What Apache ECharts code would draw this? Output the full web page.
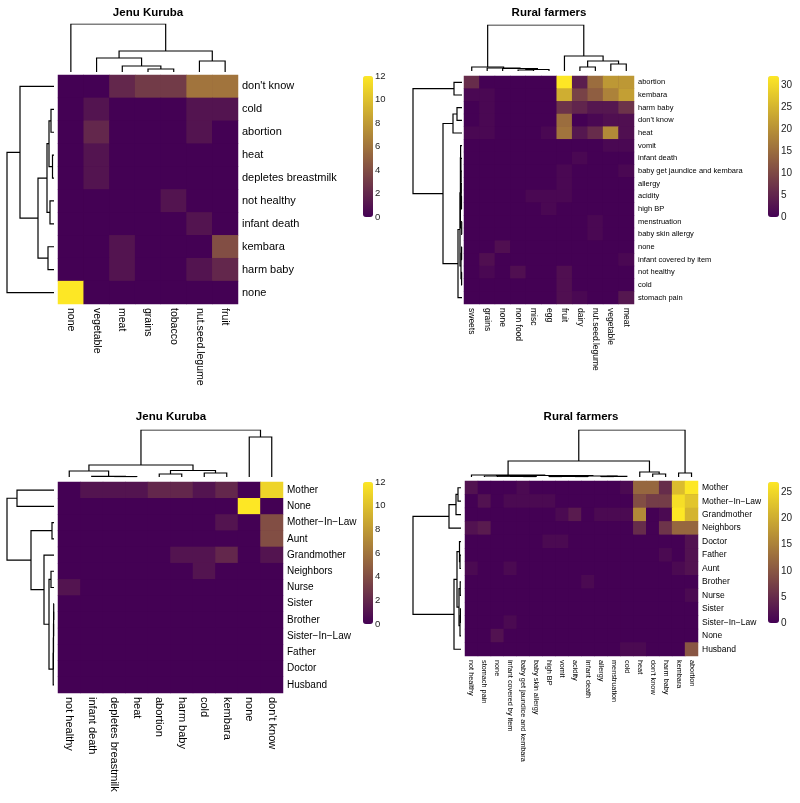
<!DOCTYPE html>
<html><head><meta charset="utf-8">
<script src="https://cdn.jsdelivr.net/npm/echarts@6/dist/echarts.min.js"></script>
<style>html,body{margin:0;padding:0;background:#fff}#c{width:800px;height:803px}</style>
</head><body><div id="c"></div>
<script>
// ---------- Panel 1: Jenu Kuruba (foods) ----------
const p1Title = 'Jenu Kuruba';
const p1Rows = ["don't know","cold","abortion","heat","depletes breastmilk","not healthy","infant death","kembara","harm baby","none"];
const p1Cols = ["none","vegetable","meat","grains","tobacco","nut.seed.legume","fruit"];
const p1Values = [
  [0,0,2,3,3,6,6],
  [0,1,0,0,0,1,1],
  [0,2,0,0,0,1,0],
  [0,1,0,0,0,0,0],
  [0,1,0,0,0,0,0],
  [0,0,0,0,1,0,0],
  [0,0,0,0,0,1,0],
  [0,0,1,0,0,0,4],
  [0,0,1,0,0,1,2],
  [12,0,0,0,0,0,0]
];
const p1ColTree = [[-4,-5,3],[-3,1,6],[-2,2,14],[-6,-7,11],[3,4,21],[-1,5,48]];
const p1RowTree = [[-2,-3,3],[-4,-5,1.5],[1,2,5],[-6,-7,4],[3,4,7],[-8,-9,6],[5,6,16],[-1,7,34],[8,-10,47]];
const p1Ticks = [0,2,4,6,8,10,12];

// ---------- Panel 2: Rural farmers (foods) ----------
const p2Title = 'Rural farmers';
const p2Rows = ["abortion","kembara","harm baby","don't know","heat","vomit","infant death","baby get jaundice and kembara","allergy","acidity","high BP","menstruation","baby skin allergy","none","infant covered by item","not healthy","cold","stomach pain"];
const p2Cols = ["sweets","grains","none","non food","misc","egg","fruit","dairy","nut.seed.legume","vegetable","meat"];
const p2Values = [
  [6,0,0,0,0,0,32,4,15,21,21],
  [1,1,0,0,0,0,24,9,13,18,22],
  [0,1,0,0,0,0,7,5,3,3,7],
  [0,1,0,0,0,0,15,0,1,2,2],
  [1,1,0,0,0,1,16,3,6,19,2],
  [0,0,0,0,0,0,0,0,0,1,1],
  [0,0,0,0,0,0,0,1,0,0,0],
  [0,0,0,0,0,0,1,0,0,0,1],
  [0,0,0,0,0,0,1,0,0,0,0],
  [0,0,0,0,1,1,1,0,0,0,0],
  [0,0,0,0,0,1,0,0,0,0,0],
  [0,0,0,0,0,0,0,0,1,0,0],
  [0,0,0,0,0,0,0,0,1,0,0],
  [0,0,2,0,0,0,0,0,0,0,0],
  [0,2,0,0,0,0,0,0,0,0,1],
  [0,1,0,2,0,0,2,0,0,0,0],
  [0,0,0,0,0,0,2,0,0,0,0],
  [0,0,0,0,0,0,2,1,0,0,3]
];
const p2ColTree = [[-4,-5,1],[1,-6,1.5],[-3,2,2.5],[-2,3,3],[-1,4,4],[-8,-9,4],[-10,-11,7],[6,7,10],[-7,8,15],[5,9,46]];
const p2RowTree = [[-1,-2,8],[-3,-4,5],[2,-5,9],[-12,-13,0.3],[-14,-15,0.4],[-16,-17,0.4],[5,6,1.0],[-10,-11,0.5],[-9,8,0.8],[-8,9,1.0],[-7,10,1.2],[-6,11,1.4],[12,4,1.6],[13,7,2.0],[14,-18,4],[3,15,19],[1,16,49]];
const p2Ticks = [0,5,10,15,20,25,30];

// ---------- Panel 3: Jenu Kuruba (sources) ----------
const p3Title = 'Jenu Kuruba';
const p3Rows = ["Mother","None","Mother\u2212In\u2212Law","Aunt","Grandmother","Neighbors","Nurse","Sister","Brother","Sister\u2212In\u2212Law","Father","Doctor","Husband"];
const p3Cols = ["not healthy","infant death","depletes breastmilk","heat","abortion","harm baby","cold","kembara","none","don't know"];
const p3Values = [
  [0,1,1,1,2,2,1,2,0,11],
  [0,0,0,0,0,0,0,0,12,0],
  [0,0,0,0,0,0,0,1,0,4],
  [0,0,0,0,0,0,0,0,0,4],
  [0,0,0,0,0,1,1,2,0,1],
  [0,0,0,0,0,0,1,0,0,0],
  [1,0,0,0,0,0,0,0,0,0],
  [0,0,0,0,0,0,0,0,0,0],
  [0,0,0,0,0,0,0,0,0,0],
  [0,0,0,0,0,0,0,0,0,0],
  [0,0,0,0,0,0,0,0,0,0],
  [0,0,0,0,0,0,0,0,0,0],
  [0,0,0,0,0,0,0,0,0,0]
];
const p3ColTree = [[-3,-4,0.3],[-2,1,0.6],[-1,2,6],[-5,-6,3],[-7,-8,4],[4,5,6.5],[3,6,12],[-9,-10,40],[7,8,47]];
const p3RowTree = [[-1,-2,37],[-3,-4,2],[-8,-9,0.3],[3,-10,0.4],[4,-11,0.5],[5,-12,0.6],[6,-13,0.8],[-6,-7,3],[8,7,5],[-5,9,10],[2,10,23],[1,11,47]];
const p3Ticks = [0,2,4,6,8,10,12];

// ---------- Panel 4: Rural farmers (sources) ----------
const p4Title = 'Rural farmers';
const p4Rows = ["Mother","Mother\u2212In\u2212Law","Grandmother","Neighbors","Doctor","Father","Aunt","Brother","Nurse","Sister","Sister\u2212In\u2212Law","None","Husband"];
const p4Cols = ["not healthy","stomach pain","none","infant covered by item","baby get jaundice and kembara","baby skin allergy","high BP","vomit","acidity","infant death","allergy","menstruation","cold","heat","don't know","harm baby","kembara","abortion"];
const p4Values = [
  [2,0,0,0,1,0,0,0,0,0,0,0,1,12,12,5,22,27],
  [0,2,0,1,1,1,1,0,0,0,0,0,0,9,7,7,26,23],
  [0,0,0,0,0,0,0,1,3,0,1,1,1,16,0,1,27,21],
  [2,3,0,0,0,0,0,0,0,0,0,0,0,5,0,6,12,12],
  [0,0,0,0,0,0,1,1,0,0,0,0,0,0,0,0,0,2],
  [0,0,0,0,0,0,0,0,0,0,0,0,0,0,0,1,0,2],
  [1,0,0,1,0,0,0,0,0,0,0,0,0,0,0,0,1,2],
  [0,0,0,0,0,0,0,0,0,1,0,0,0,0,0,0,0,0],
  [0,0,0,0,0,0,0,0,0,0,0,0,0,0,0,0,0,1],
  [0,0,0,0,0,0,0,0,0,0,0,0,0,0,0,0,0,0],
  [0,0,0,1,0,0,0,0,0,0,0,0,0,0,0,0,0,0],
  [0,0,2,0,0,0,0,0,0,0,0,0,0,0,0,0,0,0],
  [0,0,0,0,0,0,0,0,0,0,0,0,1,1,0,0,0,10]
];
const p4ColTree = [[-5,-6,0.3],[-4,1,0.5],[-3,2,0.8],[-2,3,1.0],[-7,-8,0.4],[-9,-10,0.3],[5,6,0.7],[-11,-12,0.3],[8,-13,0.6],[7,9,1.0],[4,10,1.5],[-1,11,2.0],[-15,-16,3],[-14,13,5],[12,14,16],[-17,-18,4],[15,16,47]];
const p4RowTree = [[-1,-2,3],[1,-3,5],[2,-4,12],[-6,-7,1],[-5,4,1.5],[-8,-9,0.8],[-10,-11,0.6],[7,-12,1.0],[6,8,2.0],[5,9,4],[10,-13,7],[3,11,48]];
const p4Ticks = [0,5,10,15,20,25];

// ---------- layout (positions / styles only) ----------
const panels = [
  {title:p1Title, rows:p1Rows, cols:p1Cols, values:p1Values, colTree:p1ColTree, rowTree:p1RowTree, ticks:p1Ticks,
   hm:{l:58,t:75,w:180,h:229}, cd:{t:24,h:48}, rd:{l:7,w:47}, cb:{l:363,t:76,w:10,h:141}, tt:{x:148,y:13},
   rowFs:11, colFs:10.5, cbFs:9.5},
  {title:p2Title, rows:p2Rows, cols:p2Cols, values:p2Values, colTree:p2ColTree, rowTree:p2RowTree, ticks:p2Ticks,
   hm:{l:464,t:76,w:170,h:228}, cd:{t:25,h:46}, rd:{l:413,w:49}, cb:{l:768,t:76,w:11,h:141}, tt:{x:549,y:13},
   rowFs:7.5, colFs:8.5, cbFs:10},
  {title:p3Title, rows:p3Rows, cols:p3Cols, values:p3Values, colTree:p3ColTree, rowTree:p3RowTree, ticks:p3Ticks,
   hm:{l:58,t:482,w:225,h:211}, cd:{t:430,h:47}, rd:{l:7,w:47}, cb:{l:363,t:482,w:10,h:142}, tt:{x:171,y:417},
   rowFs:10, colFs:11, cbFs:9.5},
  {title:p4Title, rows:p4Rows, cols:p4Cols, values:p4Values, colTree:p4ColTree, rowTree:p4RowTree, ticks:p4Ticks,
   hm:{l:465,t:481,w:233,h:175}, cd:{t:430,h:47}, rd:{l:413,w:48}, cb:{l:768,t:482,w:11,h:141}, tt:{x:581,y:417},
   rowFs:8.5, colFs:7.3, cbFs:10}
];

const FONT = '"Liberation Sans", Arial, Helvetica, sans-serif';
const COLORS = ['#440154', '#FDE725'];

function treeSegs(tree) {
  const pos = [], hgt = [], segs = [];
  const P = i => i < 0 ? (-i - 1) : pos[i - 1];
  const H = i => i < 0 ? 0 : hgt[i - 1];
  tree.forEach(([a, b, h]) => {
    const pa = P(a), pb = P(b);
    segs.push([[pa, H(a)], [pa, h], [pb, h], [pb, H(b)]]);
    pos.push((pa + pb) / 2); hgt.push(h);
  });
  return {segs, rootH: hgt[hgt.length - 1]};
}

const grid = [], xAxis = [], yAxis = [], series = [], visualMap = [], graphic = [];
panels.forEach((p, k) => {
  const g0 = grid.length;
  // heatmap grid (dark background hides anti-aliasing seams between cells)
  grid.push({left:p.hm.l, top:p.hm.t, width:p.hm.w, height:p.hm.h, show:true, backgroundColor:COLORS[0], borderWidth:0});
  xAxis.push({type:'category', gridIndex:g0, data:p.cols, position:'bottom',
    axisLine:{show:false}, axisTick:{show:false}, splitLine:{show:false},
    axisLabel:{rotate:-90, interval:0, fontSize:p.colFs, color:'#000', margin:4, fontFamily:FONT}});
  yAxis.push({type:'category', gridIndex:g0, data:p.rows, inverse:true, position:'right',
    axisLine:{show:false}, axisTick:{show:false}, splitLine:{show:false},
    axisLabel:{interval:0, fontSize:p.rowFs, color:'#000', margin:4, fontFamily:FONT}});
  const data = [];
  let vmax = 0;
  p.values.forEach((row, r) => row.forEach((v, c) => { data.push([c, r, v]); vmax = Math.max(vmax, v); }));
  const sIdx = series.length;
  series.push({type:'heatmap', xAxisIndex:g0, yAxisIndex:g0, data, silent:true, emphasis:{disabled:true},
    itemStyle:{borderWidth:0}});
  visualMap.push({type:'continuous', seriesIndex:sIdx, min:0, max:vmax, left:p.cb.l, top:p.cb.t,
    itemWidth:p.cb.w, itemHeight:p.cb.h, padding:0, calculable:false, hoverLink:false,
    inRange:{color:COLORS}, orient:'vertical'});
  // column dendrogram
  const ct = treeSegs(p.colTree);
  const g1 = grid.length;
  grid.push({left:p.hm.l, top:p.cd.t, width:p.hm.w, height:p.cd.h});
  xAxis.push({type:'value', gridIndex:g1, min:-0.5, max:p.cols.length - 0.5, show:false});
  yAxis.push({type:'value', gridIndex:g1, min:0, max:ct.rootH, show:false});
  series.push({type:'lines', coordinateSystem:'cartesian2d', xAxisIndex:g1, yAxisIndex:g1, polyline:true, silent:true,
    lineStyle:{color:'#000', width:1.2, opacity:1},
    data: ct.segs.map(s => ({coords:s}))});
  // row dendrogram
  const rt = treeSegs(p.rowTree);
  const g2 = grid.length;
  grid.push({left:p.rd.l, top:p.hm.t, width:p.rd.w, height:p.hm.h});
  xAxis.push({type:'value', gridIndex:g2, min:0, max:rt.rootH, inverse:true, show:false});
  yAxis.push({type:'value', gridIndex:g2, min:-0.5, max:p.rows.length - 0.5, inverse:true, show:false});
  series.push({type:'lines', coordinateSystem:'cartesian2d', xAxisIndex:g2, yAxisIndex:g2, polyline:true, silent:true,
    lineStyle:{color:'#000', width:1.2, opacity:1},
    data: rt.segs.map(s => ({coords:s.map(([a, b]) => [b, a])}))});
  // colour bar tick labels
  const g3 = grid.length;
  const step = p.ticks[1] - p.ticks[0];
  grid.push({left:p.cb.l, top:p.cb.t, width:p.cb.w, height:p.cb.h});
  xAxis.push({type:'value', gridIndex:g3, min:0, max:1, show:false});
  yAxis.push({type:'value', gridIndex:g3, min:0, max:vmax, interval:step, position:'right',
    axisLine:{show:false}, axisTick:{show:false}, splitLine:{show:false},
    axisLabel:{fontSize:p.cbFs, color:'#222', margin:2, fontFamily:FONT,
      formatter: v => (p.ticks.indexOf(v) >= 0 ? String(v) : '')}});
  // title
  graphic.push({type:'text', x:p.tt.x, y:p.tt.y, silent:true,
    style:{text:p.title, font:'bold 11.5px ' + FONT, fill:'#000', align:'center', verticalAlign:'middle'}});
});

const chart = echarts.init(document.getElementById('c'), null, {renderer:'canvas'});
chart.setOption({
  animation:false,
  backgroundColor:'#fff',
  textStyle:{fontFamily:FONT},
  grid, xAxis, yAxis, series, visualMap, graphic
});
</script>
</body></html>
